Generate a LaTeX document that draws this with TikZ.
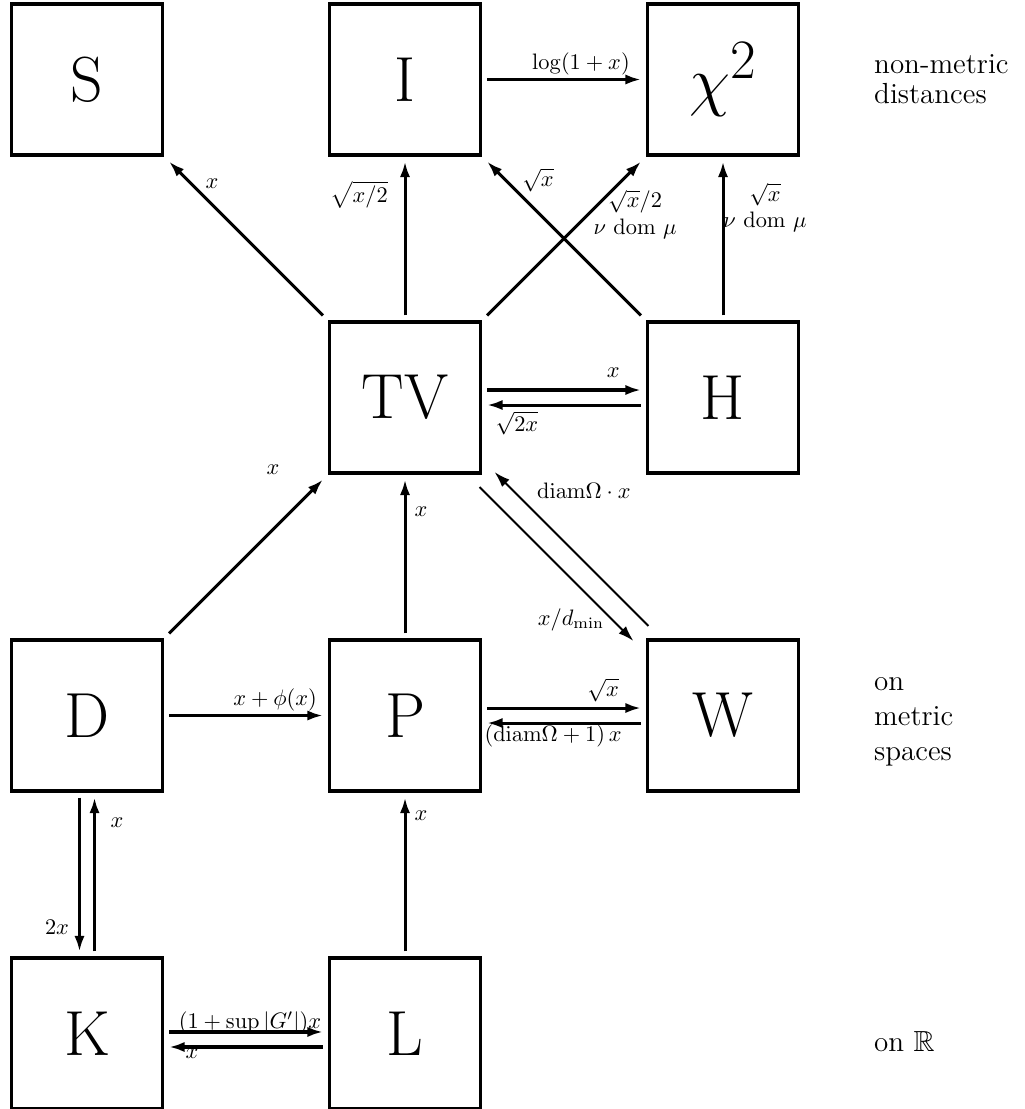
\documentclass[tikz,border=0pt]{standalone}
\usepackage{graphicx}
\usepackage{amssymb}
\usetikzlibrary{arrows.meta}
\begin{document}
\begin{tikzpicture}[
  box/.style={draw, line width=1.6pt, minimum width=2.37cm, minimum height=2.37cm, inner sep=0pt, outer sep=3pt, font=\fontsize{28.5}{34}\selectfont},
  arr/.style={line width=1.35pt, -{Latex[length=7pt,width=4.6pt]}},
  thinarr/.style={line width=0.8pt, -{Latex[length=7pt,width=4.6pt]}},
  lab/.style={inner sep=0pt, font=\normalsize},
  side/.style={anchor=west, align=left, inner sep=0pt, font=\fontsize{13}{15.5}\selectfont},
]
\useasboundingbox (-1.368,1.25) rectangle (14.733,-16.187);
% boxes
\node[box] (S)  at (0,0)   {S};
\node[box] (I)  at (5,0)   {I};
\node[box] (C)  at (10,0)  {\scalebox{1.2}{\fontsize{24.88}{30}\selectfont$\chi^2$}};
\node[box] (TV) at (5,-5)  {TV};
\node[box] (H)  at (10,-5) {H};
\node[box] (D)  at (0,-10) {D};
\node[box] (P)  at (5,-10) {P};
\node[box] (W)  at (10,-10){W};
\node[box] (K)  at (0,-15) {K};
\node[box] (L)  at (5,-15) {L};
% side texts
\node[side, font=\fontsize{13}{13.5}\selectfont] (t1) at (12.37,0) {non-metric\\distances};
\node[side] (t2) at (12.37,-10.10) {on\\metric\\spaces};
\node[side] (t3) at (12.37,-15.12) {on $\mathbb{R}$};
% top level
\draw[arr] (TV.north west) -- node[lab, pos=0.787, xshift=0.16cm, yshift=0.16cm] {$x$} (S.south east);
\draw[arr] (TV.north) -- node[lab, pos=0.783, xshift=-0.723cm] {$\sqrt{x/2}$} (I.south);
\draw[arr] (TV.north east) -- node[lab, pos=0.809, xshift=0.37cm, yshift=-0.37cm, align=center] {$\sqrt{x}/2$\\$\nu$ dom $\mu$} (C.south west);
\draw[arr] (H.north west) -- node[lab, pos=0.775, xshift=0.256cm, yshift=0.255cm] {$\sqrt{x}$} (I.south east);
\draw[arr] (H.north) -- node[lab, pos=0.70, xshift=0.66cm, align=center] {$\sqrt{x}$\\$\nu$ dom $\mu$} (C.south);
\draw[arr] (I.east) -- node[lab, pos=0.61, yshift=0.25cm] {$\log(1+x)$} (C.west);
% TV - H
\draw[arr] ([yshift=0.118cm]TV.east) -- node[lab, pos=0.82, yshift=0.267cm] {$x$} ([yshift=0.118cm]H.west);
\draw[arr] ([yshift=-0.118cm]H.west) -- node[lab, pos=0.806, yshift=-0.283cm] {$\sqrt{2x}$} ([yshift=-0.118cm]TV.east);
% into TV from below
\draw[arr] (D.north east) -- node[lab, pos=0.869, xshift=-0.47cm, yshift=0.47cm] {$x$} (TV.south west);
\draw[arr] (P.north) -- node[lab, pos=0.789, xshift=0.25cm] {$x$} (TV.south);
\draw[thinarr] ([xshift=-0.118cm,yshift=-0.118cm]TV.south east) -- node[lab, pos=0.729, xshift=-0.325cm, yshift=-0.327cm] {$x/d_{\min}$} ([xshift=-0.118cm,yshift=-0.118cm]W.north west);
\draw[thinarr] ([xshift=0.118cm,yshift=0.118cm]W.north west) -- node[lab, pos=0.648, xshift=0.553cm, yshift=0.555cm] {$\mathrm{diam}\Omega\cdot x$} ([xshift=0.118cm,yshift=0.118cm]TV.south east);
% middle row
\draw[arr] (D.east) -- node[lab, pos=0.689, yshift=0.244cm] {$x+\phi(x)$} (P.west);
\draw[arr] ([yshift=0.118cm]P.east) -- node[lab, pos=0.754, yshift=0.283cm] {$\sqrt{x}$} ([yshift=0.118cm]W.west);
\draw[arr] ([yshift=-0.118cm]W.west) -- node[lab, pos=0.571, yshift=-0.204cm] {$(\mathrm{diam}\Omega+1)\,x$} ([yshift=-0.118cm]P.east);
% D - K
\draw[arr] ([xshift=0.118cm]K.north) -- node[lab, pos=0.835, xshift=0.354cm] {$x$} ([xshift=0.118cm]D.south);
\draw[arr] ([xshift=-0.118cm]D.south) -- node[lab, pos=0.841, xshift=-0.354cm] {$2x$} ([xshift=-0.118cm]K.north);
\draw[arr] (L.north) -- node[lab, pos=0.88, xshift=0.25cm] {$x$} (P.south);
% K - L
\draw[arr] ([yshift=0.024cm]K.east) -- node[lab, pos=0.526, yshift=0.14cm] {$(1+\sup|G'|)x$} ([yshift=0.024cm]L.west);
\draw[arr] ([yshift=-0.212cm]L.west) -- node[lab, pos=0.851, yshift=-0.11cm] {$x$} ([yshift=-0.212cm]K.east);
\end{tikzpicture}
\end{document}
